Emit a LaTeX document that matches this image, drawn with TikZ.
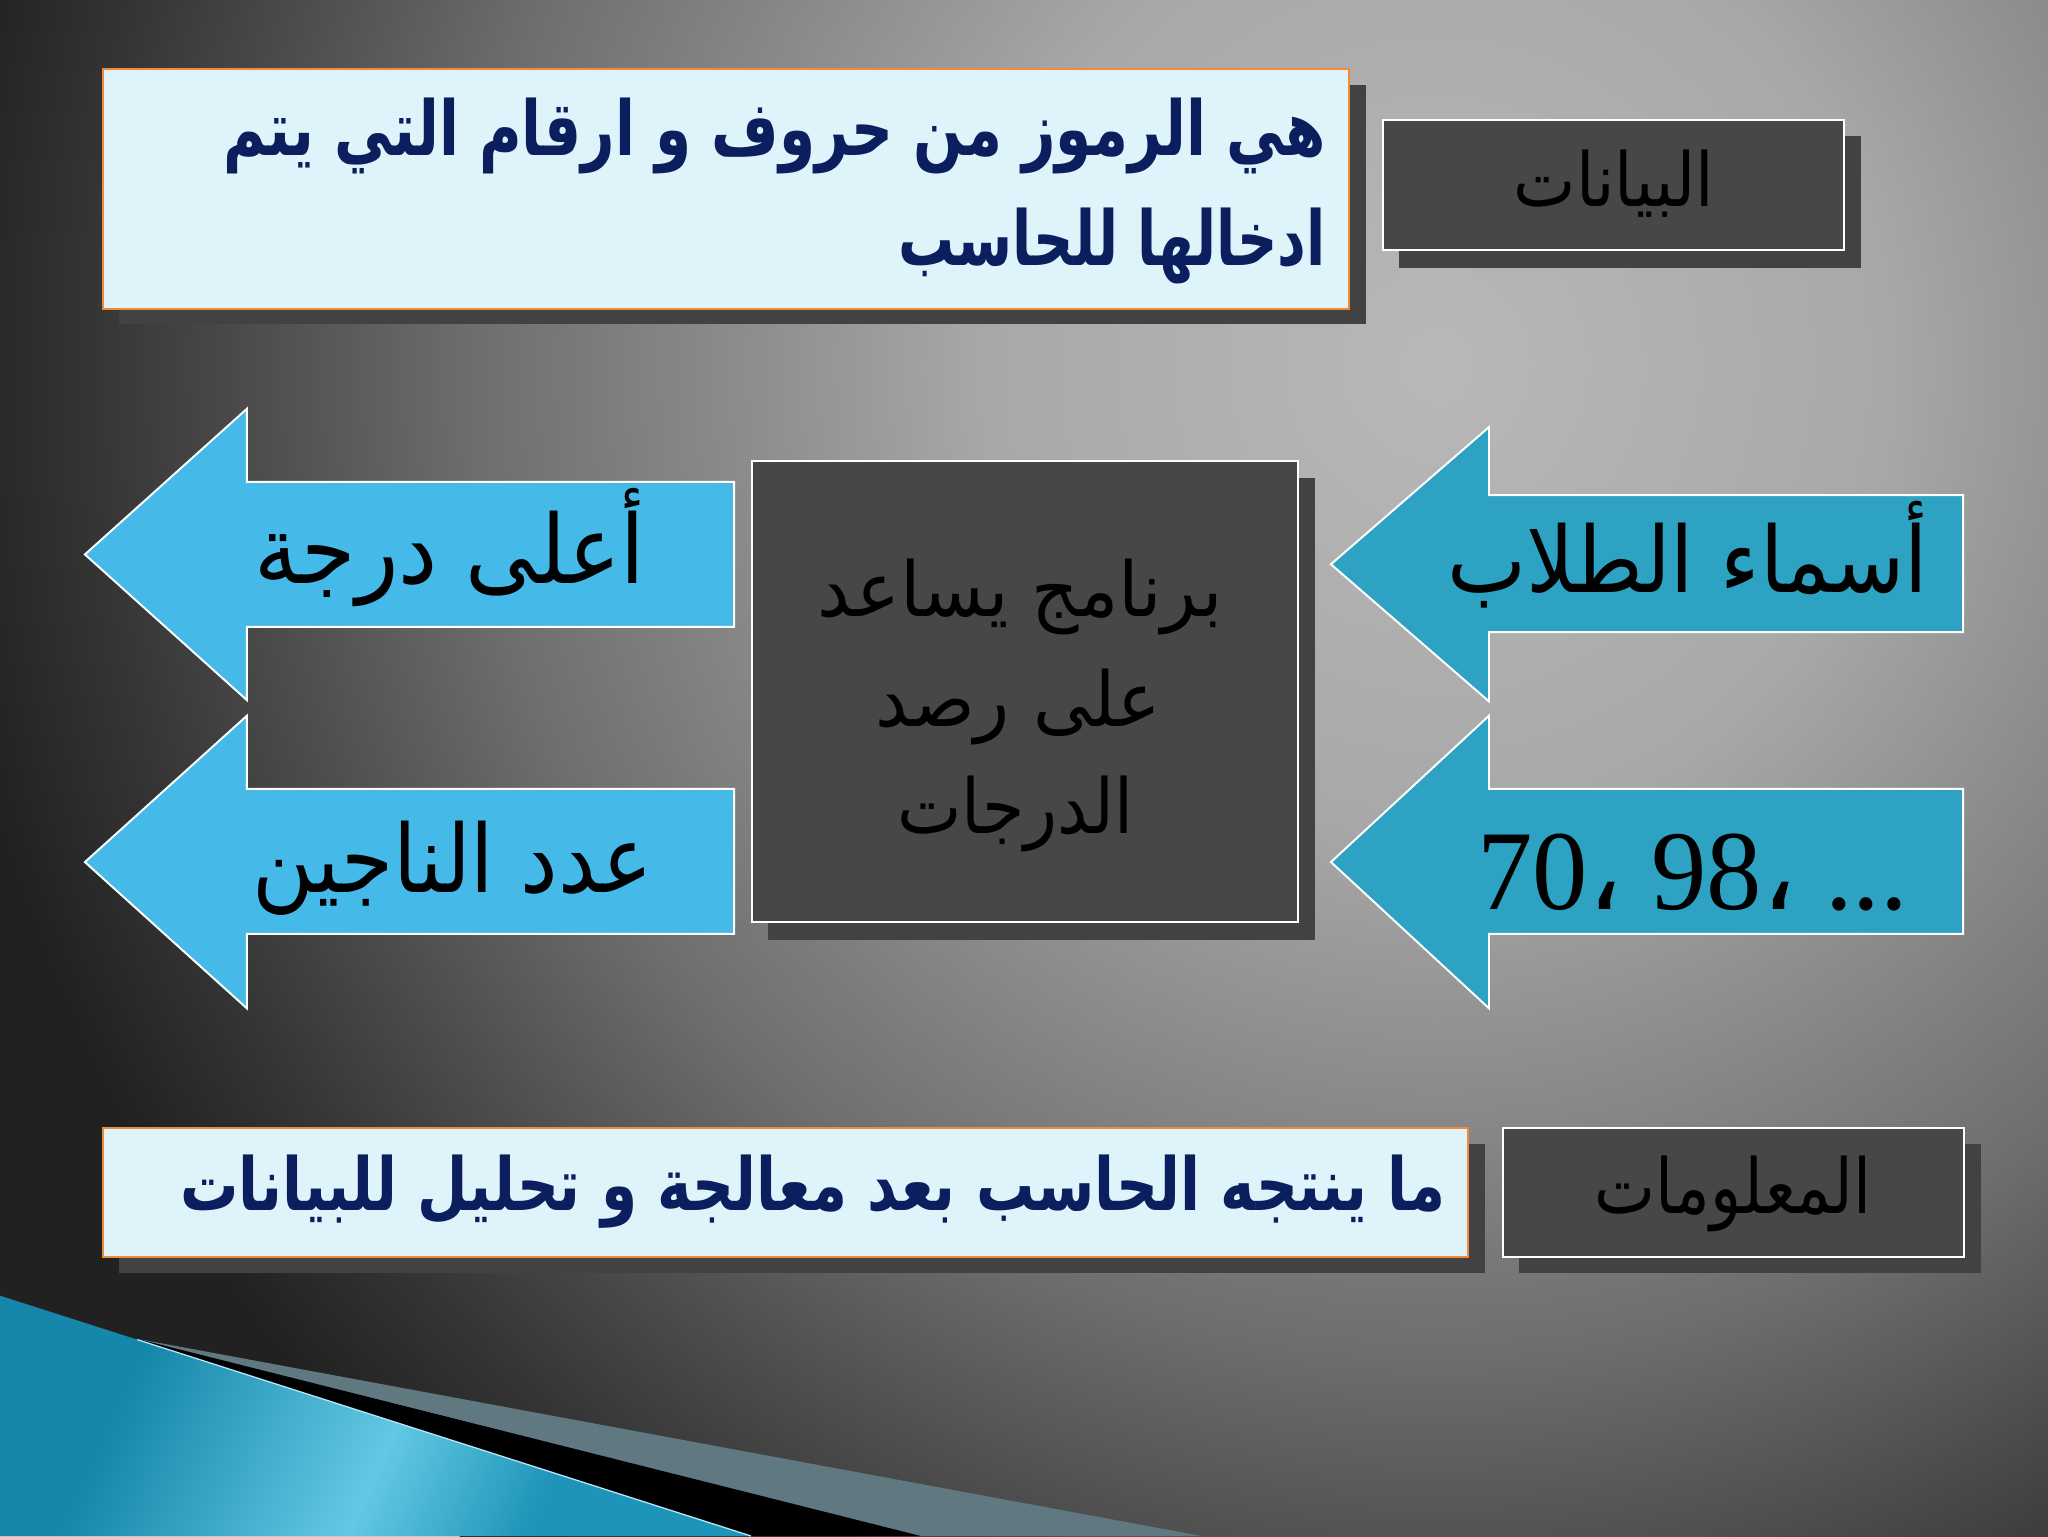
\documentclass[tikz,border=0pt]{standalone}
\usepackage{fontspec}
\usepackage{graphicx}
\setmainfont{Liberation Serif}
\newfontfamily\arabicfont[Script=Arabic]{DejaVu Sans}
\TeXXeTstate=1
\definecolor{lightboxc}{HTML}{DFF3FA}
\definecolor{orangeb}{HTML}{EE8B34}
\definecolor{darkboxc}{HTML}{474747}
\definecolor{shadowc}{HTML}{424242}
\definecolor{navy}{HTML}{0B1E5E}
\definecolor{arrowLc}{HTML}{45B9E8}
\definecolor{arrowRc}{HTML}{2DA2C2}
\definecolor{bandgray}{HTML}{607880}
\definecolor{blueA}{HTML}{1587AA}
\definecolor{blueB}{HTML}{62C8E4}
\definecolor{blueC}{HTML}{1E94B8}
\definecolor{bgA}{HTML}{B8B8B8}
\definecolor{bgB}{HTML}{A8A8A8}
\definecolor{bgC}{HTML}{868686}
\definecolor{bgD}{HTML}{6E6E6E}
\definecolor{bgE}{HTML}{4A4A4A}
\definecolor{bgF}{HTML}{343434}
\definecolor{bgG}{HTML}{212121}
\pgfdeclareradialshading{bgrad}{\pgfpoint{0bp}{0bp}}{color(0bp)=(bgA); color(7.5bp)=(bgB); color(12.5bp)=(bgC); color(16bp)=(bgD); color(20bp)=(bgE); color(22.5bp)=(bgF); color(25bp)=(bgG); color(50bp)=(bgG)}
\pgfdeclarehorizontalshading{blueshade}{100bp}{color(0bp)=(blueA); color(30bp)=(blueA); color(52bp)=(blueB); color(66bp)=(blueC); color(100bp)=(blueC)}
\newcommand\artxt[3]{\resizebox{#1}{\height}{\fontsize{#2}{#2}\selectfont\arabicfont\beginR #3\endR}}
\newcommand\artxtb[3]{\resizebox{#1}{\height}{\fontsize{#2}{#2}\selectfont\arabicfont\bfseries\beginR #3\endR}}
\begin{document}
\begin{tikzpicture}[x=1pt,y=-1pt,
  lightbox/.style={fill=lightboxc, draw=orangeb, line width=1.5pt, inner sep=0pt},
  darkbox/.style={fill=darkboxc, draw=white, line width=1.5pt, inner sep=0pt},
  shadowbox/.style={fill=shadowc},
  arrowleft/.style={fill=arrowLc, draw=white, line width=1.5pt, line join=miter},
  arrowright/.style={fill=arrowRc, draw=white, line width=1.5pt, line join=miter},
  lbl/.style={inner sep=0pt, outer sep=0pt}]
\useasboundingbox (0,0) rectangle (1568,1176);
% background
\begin{scope}
\clip (0,0) rectangle (1568,1176);
\fill[bgG] (0,0) rectangle (1568,1176);
\shade[shading=bgrad] (1100,280) ellipse [x radius=1150pt, y radius=1180pt];
\fill[bandgray] (105,1025) -- (920,1176) -- (0,1176) -- cycle;
\fill[black] (105,1025) -- (705,1176) -- (0,1176) -- cycle;
\shade[shading=blueshade, shading angle=-25] (0,992) -- (575,1176) -- (0,1176) -- cycle;
\draw[white!70!cyan, line width=1pt] (105,1025.6) -- (575,1176);
\end{scope}
% shadows
\fill[shadowbox] (91,65) rectangle (1046,248);
\fill[shadowbox] (1071,104) rectangle (1425,205);
\fill[shadowbox] (588,366) rectangle (1007,720);
\fill[shadowbox] (91,876) rectangle (1137,975);
\fill[shadowbox] (1163,876) rectangle (1517,975);
% boxes
\node[lightbox, anchor=north west, minimum width=954pt, minimum height=183.5pt] (defbox) at (78,52) {};
\node[darkbox, anchor=north west, minimum width=353pt, minimum height=100pt] (databox) at (1058,91) {};
\node[darkbox, anchor=north west, minimum width=418pt, minimum height=353pt] (progbox) at (575,352) {};
\node[lightbox, anchor=north west, minimum width=1045pt, minimum height=99pt] (infodef) at (78,862.5) {};
\node[darkbox, anchor=north west, minimum width=353pt, minimum height=99pt] (infobox) at (1150,862.5) {};
% arrows
\draw[arrowleft] (65,424.5) -- (189,313) -- (189,369) -- (562,369) -- (562,480) -- (189,480) -- (189,536) -- cycle;
\draw[arrowleft] (65,660) -- (189,548) -- (189,604) -- (562,604) -- (562,715) -- (189,715) -- (189,772) -- cycle;
\draw[arrowright] (1019,432) -- (1140,327) -- (1140,379) -- (1503,379) -- (1503,484) -- (1140,484) -- (1140,537) -- cycle;
\draw[arrowright] (1019,660) -- (1140,548) -- (1140,604) -- (1503,604) -- (1503,715) -- (1140,715) -- (1140,772) -- cycle;
% texts
\node[lbl, text=navy, anchor=base east] (t1) at (1015,118.8) {\artxtb{844pt}{58}{\beginR هي الرموز من حروف و ارقام التي يتم\endR}};
\node[lbl, text=navy, anchor=base east] (t2) at (1015,203) {\artxtb{327pt}{58}{\beginR ادخالها للحاسب\endR}};
\node[lbl, anchor=base] (datatxt) at (1235.5,158) {\artxt{153pt}{57}{البيانات}};
\node[lbl, anchor=base] (c1) at (781,472) {\artxt{310pt}{58}{\beginR برنامج  يساعد\endR}};
\node[lbl, anchor=base] (c2) at (779.5,556) {\artxt{219pt}{58}{\beginR على رصد\endR}};
\node[lbl, anchor=base] (c3) at (777.5,638) {\artxt{181pt}{58}{الدرجات}};
\node[lbl, anchor=base] (o1) at (344.5,447) {\artxt{299pt}{73}{\beginR أعلى درجة\endR}};
\node[lbl, anchor=base] (o2) at (346.5,683) {\artxt{307pt}{72}{\beginR عدد الناجين\endR}};
\node[lbl, anchor=base] (i1) at (1292,453.5) {\artxt{368pt}{70}{\beginR أسماء الطلاب\endR}};
\node[lbl, anchor=base] (i2) at (1296,696) {\resizebox{330pt}{\height}{\fontsize{87}{87}\selectfont 70{\arabicfont ،} 98{\arabicfont ،} ...}};
\node[lbl, text=navy, anchor=base east] (b1) at (1107,926.4) {\artxtb{969pt}{56}{\beginR ما ينتجه الحاسب بعد معالجة و تحليل للبيانات\endR}};
\node[lbl, anchor=base] (infotxt) at (1327,928.7) {\artxt{212pt}{58}{المعلومات}};
\end{tikzpicture}
\end{document}
